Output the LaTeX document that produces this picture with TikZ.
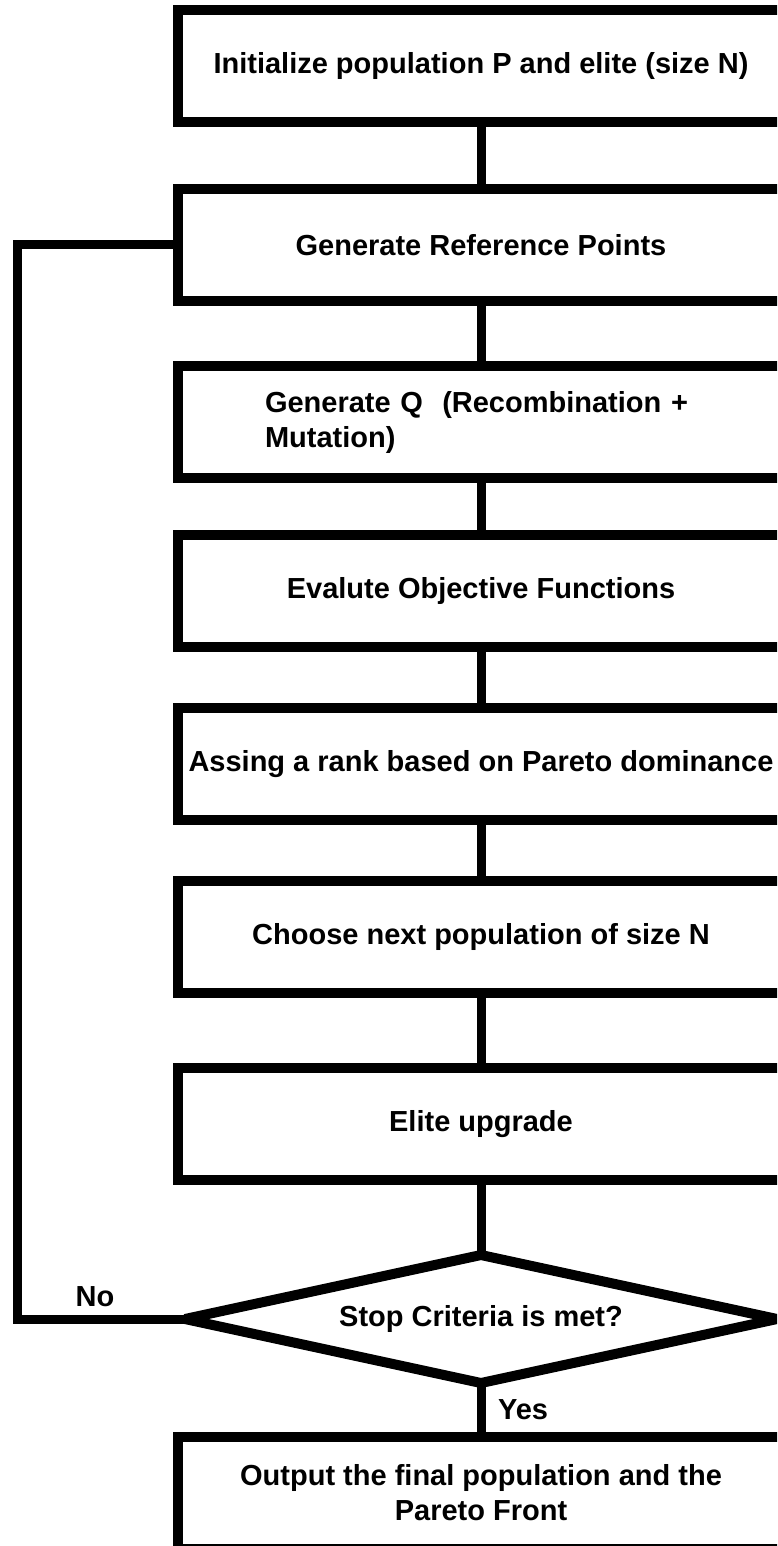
\documentclass[tikz,border=0pt]{standalone}
\usepackage{fontspec}
\setmainfont{Liberation Sans}
\usetikzlibrary{shapes.geometric}
\tikzset{
  stepbox/.style={draw=black, line width=10pt, fill=white, rectangle,
    minimum width=606pt, minimum height=112pt, inner sep=0pt, align=center,
    font=\bfseries\fontsize{29pt}{35pt}\selectfont},
  decisionbox/.style={draw=black, line width=10pt, fill=white, diamond, aspect=4.6,
    minimum width=592pt, minimum height=128pt, inner sep=0pt, outer sep=0pt, line join=bevel,
    font=\bfseries\fontsize{29pt}{35pt}\selectfont},
  link/.style={draw=black, line width=9pt, line join=miter},
  lbl/.style={font=\bfseries\fontsize{29pt}{35pt}\selectfont, inner sep=0pt}
}
\begin{document}
\begin{tikzpicture}[x=1pt,y=1pt]
\useasboundingbox (0,0) rectangle (777,-1546);
\fill[white] (0,0) rectangle (777,-1546);
\clip (0,0) rectangle (777,-1546);
\node[stepbox] (b1) at (481,-66) {Initialize population P and elite (size N)};
\node[stepbox] (b2) at (481,-245) {Generate Reference Points};
\node[stepbox, text width=432pt, align=left] (b3) at (481,-422) {Generate Q~~(Recombination +\\Mutation)};
\node[stepbox] (b4) at (481,-591) {Evalute Objective Functions};
\node[stepbox] (b5) at (481,-764) {Assing a rank based on Pareto dominance};
\node[stepbox] (b6) at (481,-937) {Choose next population of size N};
\node[stepbox] (b7) at (481,-1124) {Elite upgrade};
\node[decisionbox] (d) at (481,-1319) {Stop Criteria is met?};
\node[stepbox] (b8) at (481,-1493) {Output the final population and the\\Pareto Front};
\coordinate (lt) at (17,-245);
\draw[link] (b1.south) -- (b2.north);
\draw[link] (b2.south) -- (b3.north);
\draw[link] (b3.south) -- (b4.north);
\draw[link] (b4.south) -- (b5.north);
\draw[link] (b5.south) -- (b6.north);
\draw[link] (b6.south) -- (b7.north);
\draw[link] (b7.south) -- (d.north);
\draw[link] (d.south) -- (b8.north);
\draw[link] (b2.west) -- (lt) -- (lt |- d.west) -- (d.west);
\node[lbl] (no) at (95,-1297) {No};
\node[lbl] (yes) at (523,-1410) {Yes};
\end{tikzpicture}
\end{document}
